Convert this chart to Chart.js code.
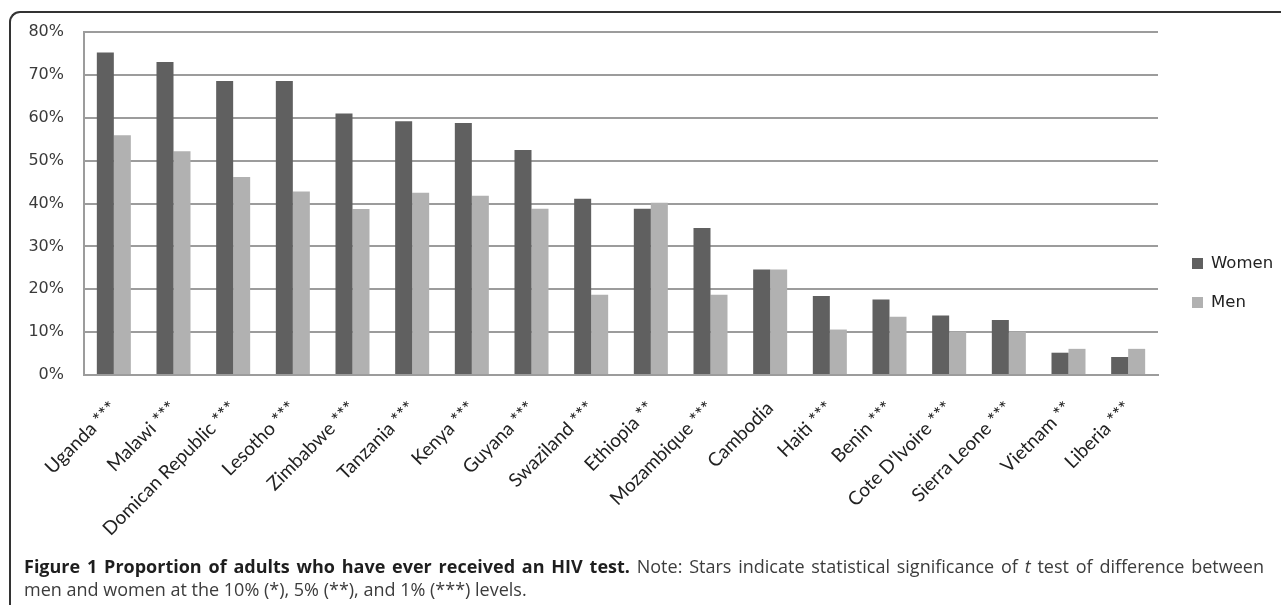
<!DOCTYPE html>
<html>
<head>
<meta charset="utf-8">
<script src="https://cdn.jsdelivr.net/npm/chart.js@4"></script>
<style>
  body { margin: 0; background: #fff; width: 1281px; height: 607px; overflow: hidden; position: relative; }
  .frame { position: absolute; left: 9px; top: 11px; width: 1300px; height: 592px;
    border-top: 2px solid #333; border-left: 2px solid #333; border-top-left-radius: 11px; }
  #myChart { position: absolute; left: 0; top: 0; }
  .caption { position: absolute; left: 24px; top: 555px; width: 1240px;
    font-family: 'Open Sans', sans-serif; font-size: 18px; color: #3c3c3c; line-height: 23px; }
  .caption .l1 { display: block; text-align: justify; text-align-last: justify; white-space: nowrap; }
  .caption b { color: #1e1e1e; }
</style>
</head>
<body>
<div class="frame"></div>
<canvas id="myChart" width="1281" height="555"></canvas>
<div class="caption">
  <span class="l1"><b>Figure 1 Proportion of adults who have ever received an HIV test.</b> Note: Stars indicate statistical significance of <i>t</i> test of difference between</span>
  <span>men and women at the 10% (*), 5% (**), and 1% (***) levels.</span>
</div>
<script>
var countries = ['Uganda ***', 'Malawi ***', 'Domican Republic ***', 'Lesotho ***', 'Zimbabwe ***',
  'Tanzania ***', 'Kenya ***', 'Guyana ***', 'Swaziland ***', 'Ethiopia **', 'Mozambique ***',
  'Cambodia', 'Haiti ***', 'Benin ***', "Cote D'Ivoire ***", 'Sierra Leone ***', 'Vietnam **', 'Liberia ***']
var women = [75.2, 73.0, 68.6, 68.6, 61.0, 59.2, 58.8, 52.5, 41.1, 38.8, 34.3, 24.6, 18.4, 17.6, 13.9, 12.8, 5.2, 4.2]
var men = [55.9, 52.2, 46.2, 42.8, 38.7, 42.5, 41.8, 38.8, 18.7, 40.2, 18.7, 24.6, 10.6, 13.6, 10.1, 10.1, 6.1, 6.1]
var yTicks = [0, 10, 20, 30, 40, 50, 60, 70, 80]

var gridColor = '#9c9c9c'

// legend drawn at the right, like the original figure
var sideLegend = {
  id: 'sideLegend',
  afterDraw: function (chart) {
    var c = chart.ctx
    var rows = [264, 303]
    c.save()
    c.font = '16.5px "DejaVu Sans"'
    c.textBaseline = 'middle'
    chart.data.datasets.forEach(function (ds, i) {
      c.fillStyle = ds.backgroundColor
      c.fillRect(1192, rows[i] - 6, 11, 11)
      c.fillStyle = '#222'
      c.fillText(ds.label, 1211, rows[i])
    })
    c.restore()
  }
}

var ctx = document.getElementById('myChart').getContext('2d')

var myChart = new Chart(ctx, {
  type: 'bar',
  data: {
    labels: countries,
    datasets: [{
      label: 'Women',
      data: women,
      backgroundColor: '#606060'
    }, {
      label: 'Men',
      data: men,
      backgroundColor: '#b1b1b1'
    }]
  },
  options: {
    responsive: false,
    animation: false,
    devicePixelRatio: 1,
    layout: { padding: { top: 32, right: 123, left: 0, bottom: 0 } },
    datasets: { bar: { categoryPercentage: 0.57, barPercentage: 1.0 } },
    scales: {
      x: {
        grid: { display: false },
        border: { display: true, color: gridColor, width: 2 },
        ticks: {
          minRotation: 45,
          maxRotation: 45,
          autoSkip: false,
          padding: 14,
          color: '#222',
          font: { family: 'Lato', size: 19 }
        },
        afterFit: function (scale) { scale.height = 180 }
      },
      y: {
        min: 0,
        max: 80,
        afterBuildTicks: function (scale) {
          scale.ticks = yTicks.map(function (v) { return { value: v } })
        },
        grid: { color: gridColor, lineWidth: 2, drawTicks: false },
        border: { display: true, color: gridColor, width: 2 },
        ticks: {
          padding: 20,
          color: '#3a3a3a',
          font: { family: 'DejaVu Sans', size: 16 },
          callback: function (v) { return v + '%' }
        },
        afterFit: function (scale) { scale.width = 84 }
      }
    },
    plugins: {
      legend: { display: false },
      tooltip: { enabled: false }
    }
  },
  plugins: [sideLegend]
})
</script>
</body>
</html>
